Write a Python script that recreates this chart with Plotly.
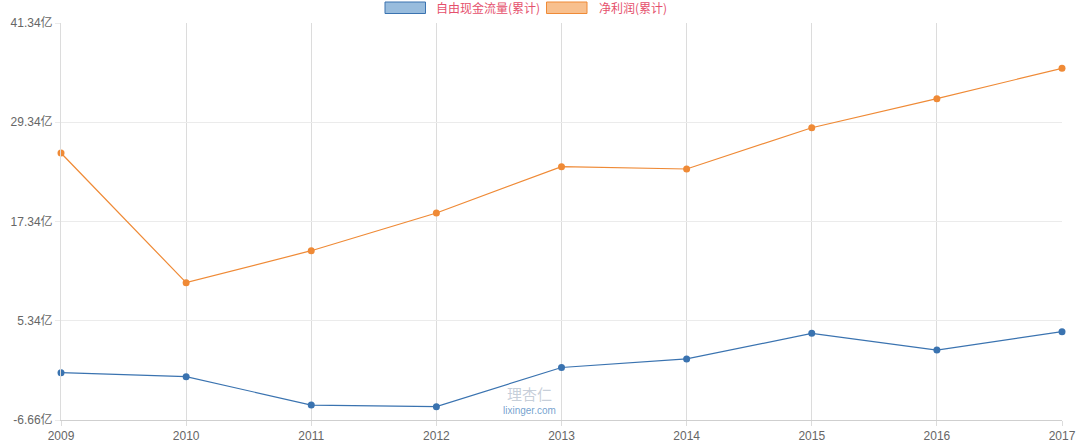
import plotly.graph_objects as go

years = [2009, 2010, 2011, 2012, 2013, 2014, 2015, 2016, 2017]
fcf = [-0.94, -1.42, -4.85, -5.05, -0.31, 0.72, 3.82, 1.80, 4.02]
net_profit = [25.62, 9.94, 13.81, 18.37, 23.97, 23.69, 28.68, 32.19, 35.86]
y_ticks = [-6.66, 5.34, 17.34, 29.34, 41.34]
y_tick_text = ["-6.66亿", "5.34亿", "17.34亿", "29.34亿", "41.34亿"]
series_names = ["自由现金流量(累计)", "净利润(累计)"]

BLUE = "#3a73b0"
ORANGE = "#ef8a36"

fig = go.Figure()
fig.add_trace(go.Scatter(x=years, y=fcf, mode="lines+markers", name=series_names[0],
                         line=dict(color=BLUE, width=1.2),
                         marker=dict(color=BLUE, size=7), cliponaxis=False))
fig.add_trace(go.Scatter(x=years, y=net_profit, mode="lines+markers", name=series_names[1],
                         line=dict(color=ORANGE, width=1.2),
                         marker=dict(color=ORANGE, size=7), cliponaxis=False))

L, R, T, B = 61, 18, 23, 25
W, H = 1080, 445
pw = W - L - R
ph = H - T - B

def px(x):
    return (x - L) / pw

def py(y):
    return (H - B - y) / ph

shapes = [
    dict(type="rect", xref="paper", yref="paper", x0=px(385), x1=px(425.5), y0=py(13.5), y1=py(2),
         fillcolor="#98bcdd", line=dict(color=BLUE, width=1)),
    dict(type="rect", xref="paper", yref="paper", x0=px(546.5), x1=px(587), y0=py(13.5), y1=py(2),
         fillcolor="#f8c08e", line=dict(color=ORANGE, width=1)),
]
annotations = [
    dict(xref="paper", yref="paper", x=px(434), y=py(7.5), text=series_names[0], showarrow=False,
         xanchor="left", yanchor="middle", font=dict(size=12, color="#e5506c",
                                                     family="Noto Sans CJK SC, Liberation Sans")),
    dict(xref="paper", yref="paper", x=px(596.5), y=py(7.5), text=series_names[1], showarrow=False,
         xanchor="left", yanchor="middle", font=dict(size=12, color="#e5506c",
                                                     family="Noto Sans CJK SC, Liberation Sans")),
    dict(xref="paper", yref="paper", x=px(529), y=py(393), text="理杏仁", showarrow=False,
         xanchor="center", yanchor="middle", font=dict(size=15, color="rgba(150,165,185,0.55)",
                                                      family="Noto Sans CJK SC")),
    dict(xref="paper", yref="paper", x=px(529), y=py(410), text="lixinger.com", showarrow=False,
         xanchor="center", yanchor="middle", font=dict(size=10, color="rgba(70,130,190,0.75)",
                                                      family="Liberation Sans")),
]

fig.update_layout(
    width=W, height=H,
    margin=dict(l=L, r=R, t=T, b=B, autoexpand=False),
    paper_bgcolor="white", plot_bgcolor="white",
    showlegend=False,
    font=dict(family="Liberation Sans, Noto Sans CJK SC", size=12, color="#666666"),
    shapes=shapes, annotations=annotations,
)
fig.update_xaxes(range=[2009, 2017], tickmode="array", tickvals=years, ticktext=[str(y) for y in years],
                 showgrid=True, gridcolor="#dcdcdc", gridwidth=1, zeroline=False, automargin=False,
                 showline=True, linecolor="#cfcfcf", ticks="outside", ticklen=5, tickcolor="#dcdcdc",
                 tickfont=dict(size=12, color="#666666"))
fig.update_yaxes(range=[-6.66, 41.34], tickmode="array", tickvals=y_ticks, ticktext=y_tick_text,
                 showgrid=True, gridcolor="#ebebeb", gridwidth=1, zeroline=False, automargin=False,
                 showline=True, linecolor="#dcdcdc", ticks="outside", ticklen=5, tickcolor="#ebebeb",
                 tickfont=dict(size=12, color="#666666"))

fig.write_html("out.html")
